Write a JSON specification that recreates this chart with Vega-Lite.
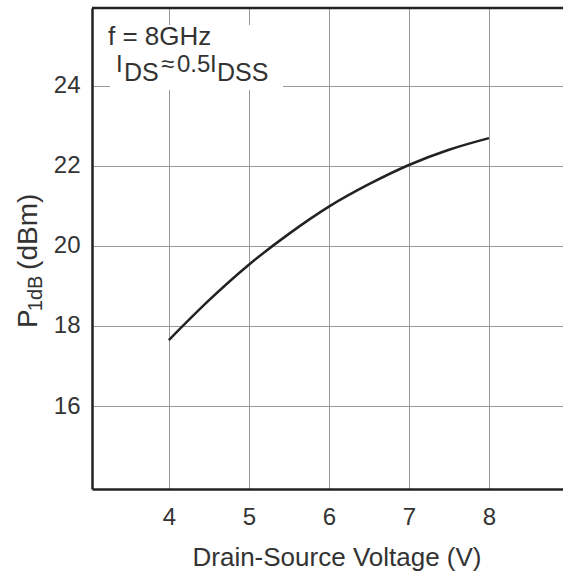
{
  "$schema": "https://vega.github.io/schema/vega-lite/v6.json",
  "width": 471,
  "height": 481,
  "autosize": {"type": "none"},
  "padding": {"left": 92, "top": 8, "right": 0, "bottom": 87},
  "background": "white",
  "config": {"view": {"stroke": null}, "font": "Liberation Sans"},
  "datasets": {
    "curve": [
      {"v": 4, "p": 17.65},
      {"v": 4.5, "p": 18.64},
      {"v": 5, "p": 19.53},
      {"v": 5.5, "p": 20.30},
      {"v": 6, "p": 20.98},
      {"v": 6.5, "p": 21.54},
      {"v": 7, "p": 22.02},
      {"v": 7.5, "p": 22.40},
      {"v": 8, "p": 22.69}
    ],
    "box": [{"x1": 3.265, "x2": 5.427, "y1": 25.516, "y2": 23.893}],
    "notes": [
      {"t": "f = 8GHz", "x": 3.24, "y": 25.02, "kind": "head"},
      {"t": "I", "x": 3.34, "y": 24.34, "kind": "main"},
      {"t": "≈", "x": 3.902, "y": 24.34, "kind": "main"},
      {"t": "0.5", "x": 4.102, "y": 24.34, "kind": "main"},
      {"t": "I", "x": 4.514, "y": 24.34, "kind": "main"},
      {"t": "DS", "x": 3.44, "y": 24.12, "kind": "sub"},
      {"t": "DSS", "x": 4.602, "y": 24.12, "kind": "sub"},
      {"t": "P", "x": 2.353, "y": 17.95, "kind": "title"},
      {"t": "(dBm)", "x": 2.353, "y": 19.40, "kind": "title"},
      {"t": "1dB", "x": 2.415, "y": 18.37, "kind": "titlesub"}
    ]
  },
  "layer": [
    {
      "data": {"name": "box"},
      "mark": {"type": "rect", "fill": "white"},
      "encoding": {
        "x": {
          "field": "x1", "type": "quantitative",
          "scale": {"domain": [3.04, 8.925], "nice": false, "zero": false},
          "axis": {
            "values": [4, 5, 6, 7, 8], "format": "d",
            "grid": true, "gridColor": "#999999", "gridWidth": 1,
            "ticks": false,
            "labelFontSize": 24, "labelPadding": 16, "labelColor": "#333333", "labelFont": "Liberation Sans",
            "domainColor": "#222222", "domainWidth": 2.5,
            "title": "Drain-Source Voltage (V)",
            "titleFont": "Liberation Sans", "titleFontSize": 26, "titleFontWeight": "normal", "titleColor": "#333333",
            "titleBaseline": "alphabetic", "titleAlign": "center", "titleX": 244.5, "titleY": 76
          }
        },
        "x2": {"field": "x2"},
        "y": {
          "field": "y1", "type": "quantitative",
          "scale": {"domain": [13.93, 25.94], "nice": false, "zero": false},
          "axis": {
            "values": [16, 18, 20, 22, 24], "format": "d",
            "grid": true, "gridColor": "#999999", "gridWidth": 1,
            "ticks": false,
            "labelFontSize": 24, "labelPadding": 12, "labelColor": "#333333", "labelFont": "Liberation Sans",
            "domainColor": "#222222", "domainWidth": 2.5,
            "title": null
          }
        },
        "y2": {"field": "y2"}
      }
    },
    {
      "data": {"name": "curve"},
      "mark": {"type": "line", "interpolate": "monotone", "color": "#222222", "strokeWidth": 2.5},
      "encoding": {
        "x": {"field": "v", "type": "quantitative"},
        "y": {"field": "p", "type": "quantitative"}
      }
    },
    {
      "data": {"values": [{}]},
      "mark": {"type": "rule", "color": "#222222", "strokeWidth": 2.5},
      "encoding": {"y": {"datum": 25.94}}
    },
    {
      "data": {"name": "notes"},
      "transform": [{"filter": "datum.kind === 'head'"}],
      "mark": {"type": "text", "align": "left", "baseline": "alphabetic", "fontSize": 26, "color": "#333333", "font": "Liberation Sans"},
      "encoding": {
        "x": {"field": "x", "type": "quantitative"},
        "y": {"field": "y", "type": "quantitative"},
        "text": {"field": "t"}
      }
    },
    {
      "data": {"name": "notes"},
      "transform": [{"filter": "datum.kind === 'main'"}],
      "mark": {"type": "text", "align": "left", "baseline": "alphabetic", "fontSize": 24, "color": "#333333", "font": "Liberation Sans"},
      "encoding": {
        "x": {"field": "x", "type": "quantitative"},
        "y": {"field": "y", "type": "quantitative"},
        "text": {"field": "t"}
      }
    },
    {
      "data": {"name": "notes"},
      "transform": [{"filter": "datum.kind === 'sub'"}],
      "mark": {"type": "text", "align": "left", "baseline": "alphabetic", "fontSize": 25, "color": "#333333", "font": "Liberation Sans"},
      "encoding": {
        "x": {"field": "x", "type": "quantitative"},
        "y": {"field": "y", "type": "quantitative"},
        "text": {"field": "t"}
      }
    },
    {
      "data": {"name": "notes"},
      "transform": [{"filter": "datum.kind === 'title'"}],
      "mark": {"type": "text", "align": "left", "baseline": "alphabetic", "fontSize": 28, "angle": 270, "color": "#333333", "font": "Liberation Sans", "clip": false},
      "encoding": {
        "x": {"field": "x", "type": "quantitative"},
        "y": {"field": "y", "type": "quantitative"},
        "text": {"field": "t"}
      }
    },
    {
      "data": {"name": "notes"},
      "transform": [{"filter": "datum.kind === 'titlesub'"}],
      "mark": {"type": "text", "align": "left", "baseline": "alphabetic", "fontSize": 20, "angle": 270, "color": "#333333", "font": "Liberation Sans", "clip": false},
      "encoding": {
        "x": {"field": "x", "type": "quantitative"},
        "y": {"field": "y", "type": "quantitative"},
        "text": {"field": "t"}
      }
    }
  ]
}
